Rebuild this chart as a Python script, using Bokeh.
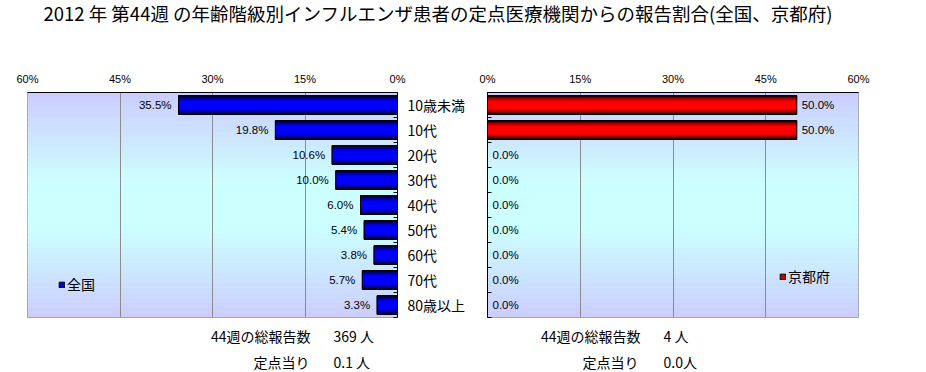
import numpy as np
from bokeh.plotting import figure
from bokeh.models import (Range1d, FixedTicker, PrintfTickFormatter, CustomJSTickFormatter,
                          ColumnDataSource, LabelSet, Label, Legend, LegendItem)
from bokeh.layouts import column, row
from bokeh.embed import file_html
from bokeh.resources import INLINE
from bokeh.core.properties import value

# ---------------- data ----------------
categories = ["10歳未満", "10代", "20代", "30代", "40代", "50代", "60代", "70代", "80歳以上"]
national = [35.5, 19.8, 10.6, 10.0, 6.0, 5.4, 3.8, 5.7, 3.3]
kyoto = [50.0, 50.0, 0.0, 0.0, 0.0, 0.0, 0.0, 0.0, 0.0]
x_ticks = [0, 15, 30, 45, 60]
x_max = 60
title_text = "2012 年  第44週 の年齢階級別インフルエンザ患者の定点医療機関からの報告割合(全国、京都府)"
national_name = "全国"
kyoto_name = "京都府"
total_caption = "44週の総報告数"
per_site_caption = "定点当り"
national_total = "369 人"
national_per_site = "0.1 人"
kyoto_total = "4 人"
kyoto_per_site = "0.0人"

JP = "Noto Sans CJK JP"
NUM = "Liberation Sans"

n = len(categories)
ypos = [n - 1 - i for i in range(n)]
centers = list(range(n))
bounds = [i - 0.5 for i in range(n + 1)]
labels_by_y = [categories[n - 1 - y] for y in range(n)]


def blend(c1, c2, m):
    return "#%02x%02x%02x" % tuple(int(round(a + (b - a) * m)) for a, b in zip(c1, c2))


def make_panel(vals, x_range, width, bl, br, yloc, dark, bright, legend_color,
               legend_name, legend_loc, label_align, label_offset, show_cat):
    p = figure(width=width, height=260, x_range=x_range, y_range=Range1d(-0.5, n - 0.5),
               x_axis_location="above", y_axis_location=yloc, toolbar_location=None,
               output_backend="svg", min_border_left=bl, min_border_right=br,
               min_border_top=32, min_border_bottom=3, outline_line_color="#808080",
               background_fill_color="white", border_fill_color="white")

    # vertical gradient background of the plot area
    edges = np.linspace(-0.5, n - 0.5, 46)
    b, t = edges[:-1], edges[1:]
    frac = ((n - 0.5) - (b + t) / 2) / n
    k = np.clip((1 - np.abs(2 * frac - 1)) * 1.25, 0, 1)
    cols = ["#%02x%02x%02x" % (204, int(round(204 + 51 * kk)), 255) for kk in k]
    bg = p.quad(left=0, right=x_max, bottom=b, top=t, fill_color=cols, line_color=cols, line_width=0.6)
    bg.level = "image"

    p.xgrid.ticker = FixedTicker(ticks=x_ticks)
    p.xgrid.grid_line_color = "#8c8c8c"
    p.ygrid.visible = False

    # base bar (also used as the legend swatch), then cylinder-like shading on top
    base = p.hbar(y=ypos, left=0, right=vals, height=0.75, fill_color=legend_color,
                  line_color="black", line_width=1)
    levels = [1.0, 0.86, 0.72, 0.58, 0.44]
    mix = [0.0, 0.35, 0.6, 0.82, 1.0]
    for lv, m in zip(levels, mix):
        p.hbar(y=ypos, left=0, right=vals, height=0.75 * lv, fill_color=blend(dark, bright, m),
               line_color=None)
    p.hbar(y=ypos, left=0, right=vals, height=0.75, fill_color=None, line_color="black", line_width=1)

    src = ColumnDataSource(dict(y=ypos, v=vals, t=["%.1f%%" % v for v in vals]))
    p.add_layout(LabelSet(x="v", y="y", text="t", source=src, text_align=label_align,
                          text_baseline="middle", x_offset=label_offset,
                          text_font=value(NUM), text_font_size=value("11.5px"), text_color="black"))

    xa = p.xaxis[0]
    xa.ticker = FixedTicker(ticks=x_ticks)
    xa.formatter = PrintfTickFormatter(format="%d%%")
    xa.major_tick_in = 0
    xa.major_tick_out = 0
    xa.minor_tick_in = 0
    xa.minor_tick_out = 0
    xa.axis_line_color = "black"
    xa.major_label_text_font = NUM
    xa.major_label_text_font_size = "11px"
    xa.major_label_text_color = "black"
    xa.major_label_standoff = 8

    ya = p.yaxis[0]
    ya.ticker = FixedTicker(ticks=centers, minor_ticks=bounds)
    ya.major_tick_in = 0
    ya.major_tick_out = 0
    ya.minor_tick_in = 4
    ya.minor_tick_out = 0
    ya.minor_tick_line_color = "black"
    ya.axis_line_color = "black"
    if show_cat:
        ya.formatter = CustomJSTickFormatter(args=dict(labels=labels_by_y),
                                             code="return labels[Math.round(tick)] || '';")
        ya.major_label_text_font = JP
        ya.major_label_text_font_size = "14px"
        ya.major_label_text_color = "black"
        ya.major_label_standoff = 10
    else:
        ya.formatter = CustomJSTickFormatter(code="return '';")

    leg = Legend(items=[LegendItem(label=legend_name, renderers=[base])], location=legend_loc,
                 padding=0, margin=0, spacing=0, glyph_width=7, glyph_height=7,
                 label_standoff=2, label_height=14, label_text_font=JP,
                 label_text_font_size="14px", label_text_color="black",
                 border_line_color=None, background_fill_alpha=0)
    p.add_layout(leg)
    return p


left = make_panel(national, Range1d(x_max, 0), 470, 27, 73, "right",
                  (0, 0, 40), (0, 0, 255), "#0000cc", national_name, (31, 23),
                  "right", -7, True)
right = make_panel(kyoto, Range1d(0, x_max), 456, 17, 68, "left",
                   (40, 0, 0), (255, 0, 0), "#cc0000", kyoto_name, (292, 31),
                   "left", 5, False)


def text_fig(h):
    f = figure(width=926, height=h, x_range=Range1d(0, 926), y_range=Range1d(0, h),
               toolbar_location=None, output_backend="svg", x_axis_location=None,
               y_axis_location=None, min_border=0, outline_line_color=None,
               border_fill_color="white", background_fill_color="white")
    f.grid.visible = False
    return f


top = text_fig(60)
top.add_layout(Label(x=43, y=48, text=title_text, text_font=JP, text_font_size="18.5px",
                     text_baseline="middle", text_color="black"))

bottom = text_fig(52)
for (x, y, txt, align) in [(310, 37, total_caption, "right"), (333, 37, national_total, "left"),
                           (309, 11, per_site_caption, "right"), (333, 11, national_per_site, "left"),
                           (640, 37, total_caption, "right"), (663, 37, kyoto_total, "left"),
                           (638, 11, per_site_caption, "right"), (663, 11, kyoto_per_site, "left")]:
    bottom.add_layout(Label(x=x, y=y, text=txt, text_font=JP, text_font_size="14px",
                            text_align=align, text_baseline="middle", text_color="black"))

layout = column(top, row(left, right), bottom)
open("out.html", "w").write(file_html(layout, INLINE))
